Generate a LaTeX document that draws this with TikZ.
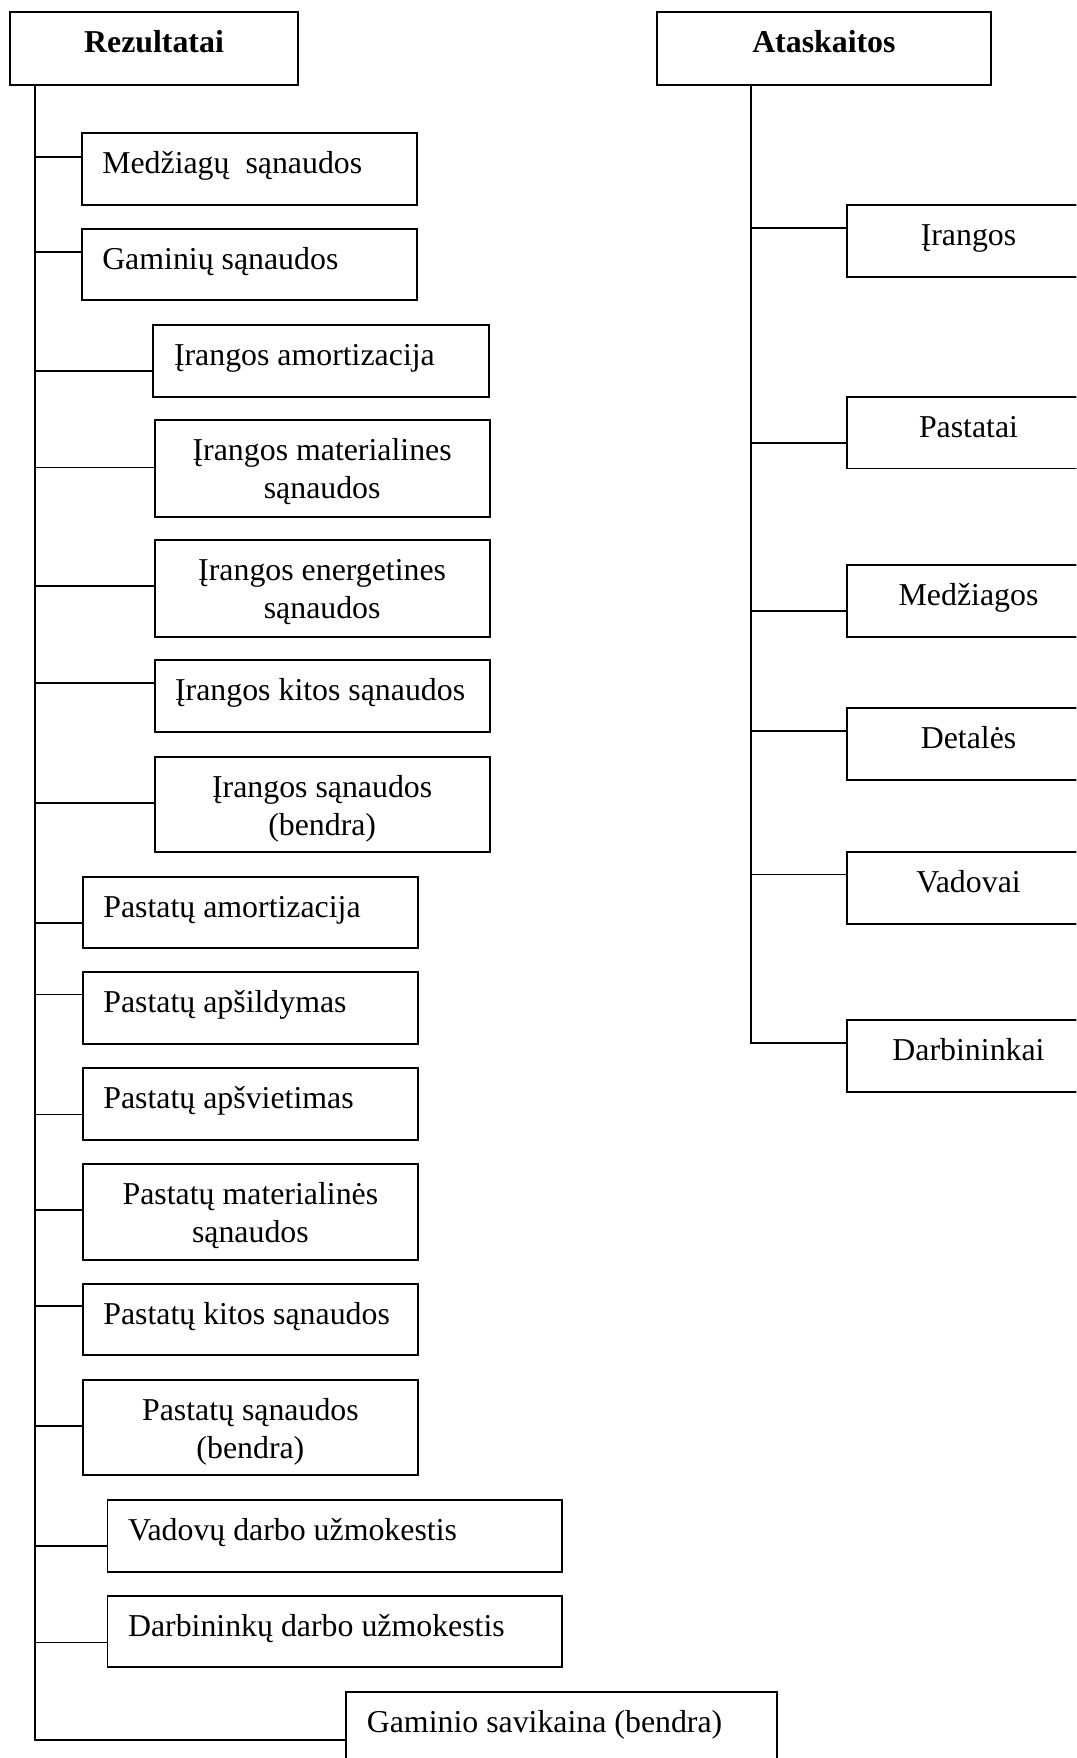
\documentclass[tikz,border=0pt]{standalone}
\usepackage{fontspec}
\setmainfont{Liberation Serif}
\usetikzlibrary{calc}
\begin{document}
\begin{tikzpicture}[x=1pt,y=-1pt,
  box/.style={draw, line width=1.7pt, inner sep=0pt, anchor=north west},
  txt/.style={inner sep=0pt, font=\fontsize{28.4}{34}\selectfont},
  head/.style={inner sep=0pt, font=\fontsize{28.4}{34}\selectfont\bfseries},
  ln/.style={line width=1.7pt}]
\useasboundingbox (0,0) rectangle (960,1568);
\clip (0,0) rectangle (960,1568);

% ---------- headers
\node[box, minimum width=257pt, minimum height=65pt] (rez) at (8,10) {};
\node[head, anchor=base] (rezt) at ($(rez.north)+(0,37)$) {Rezultatai};
\node[box, minimum width=298pt, minimum height=65pt] (ata) at (585,10) {};
\node[head, anchor=base] (atat) at ($(ata.north)+(0,37)$) {Ataskaitos};

% ---------- left column boxes (single line, left aligned)
\foreach \n/\x/\y/\w/\h/\t in {
  m1/72/118/299/64/{Medžiagų~ sąnaudos},
  m2/72/203/299/64/{Gaminių sąnaudos},
  m3/136/289/299/64/{Įrangos amortizacija},
  m6/137/588/299/64/{Įrangos kitos sąnaudos},
  m8/73/781/299/64/{Pastatų amortizacija},
  m9/73/866/299/64/{Pastatų apšildymas},
  m10/73/952/299/64/{Pastatų apšvietimas},
  m12/73/1144/299/64/{Pastatų kitos sąnaudos},
  m14/95/1337/405/64/{Vadovų darbo užmokestis},
  m15/95/1423/405/63/{Darbininkų darbo užmokestis},
  m16/308/1508/384/100/{Gaminio savikaina (bendra)}}{
  \node[box, minimum width=\w pt, minimum height=\h pt] (\n) at (\x,\y) {};
  \node[txt, anchor=base west] (\n t) at ($(\n.north west)+(19,37)$) {\t};
}

% ---------- left column boxes (two lines, centred)
\foreach \n/\x/\y/\h/\ta/\tb in {
  m4/137/374/86/{Įrangos materialines}/{sąnaudos},
  m5/137/481/86/{Įrangos energetines}/{sąnaudos},
  m7/137/674/85/{Įrangos sąnaudos}/{(bendra)},
  m11/73/1037/86/{Pastatų materialinės}/{sąnaudos},
  m13/73/1230/85/{Pastatų sąnaudos}/{(bendra)}}{
  \node[box, minimum width=299pt, minimum height=\h pt] (\n) at (\x,\y) {};
  \node[txt, anchor=base] (\n a) at ($(\n.north)+(0,37)$) {\ta};
  \node[txt, anchor=base] (\n b) at ($(\n.north)+(0,71)$) {\tb};
}

% ---------- right column boxes
\foreach \n/\y/\t in {r1/182/Įrangos, r2/353/Pastatai, r3/503/Medžiagos,
  r4/631/Detalės, r5/759/Vadovai, r6/909/Darbininkai}{
  \node[box, minimum width=216pt, minimum height=64pt] (\n) at (755,\y) {};
  \node[txt, anchor=base] (\n t) at ($(\n.north)+(0,37)$) {\t};
}

% ---------- trunks
\coordinate (lt) at (31,0);
\coordinate (rt) at (670,0);
\coordinate (lend) at (31,1552);
\coordinate (rend) at (670,930);
\draw[ln] (lt |- rez.south) -- (lend) -- (lend -| m16.west);
\draw[ln] (rt |- ata.south) -- (rend) -- (rend -| r6.west);

% ---------- branches
\foreach \n/\y in {m1/140, m2/225, m3/331, m4/417, m5/523, m6/609, m7/716,
  m8/823, m9/887, m10/994, m11/1079, m12/1165, m13/1272, m14/1379, m15/1465}{
  \coordinate (b\n) at (31,\y);
  \draw[ln] (b\n) -- (b\n -| \n.west);
}
\foreach \n/\y in {r1/203, r2/395, r3/545, r4/652, r5/780}{
  \coordinate (b\n) at (670,\y);
  \draw[ln] (b\n) -- (b\n -| \n.west);
}
\end{tikzpicture}
\end{document}
